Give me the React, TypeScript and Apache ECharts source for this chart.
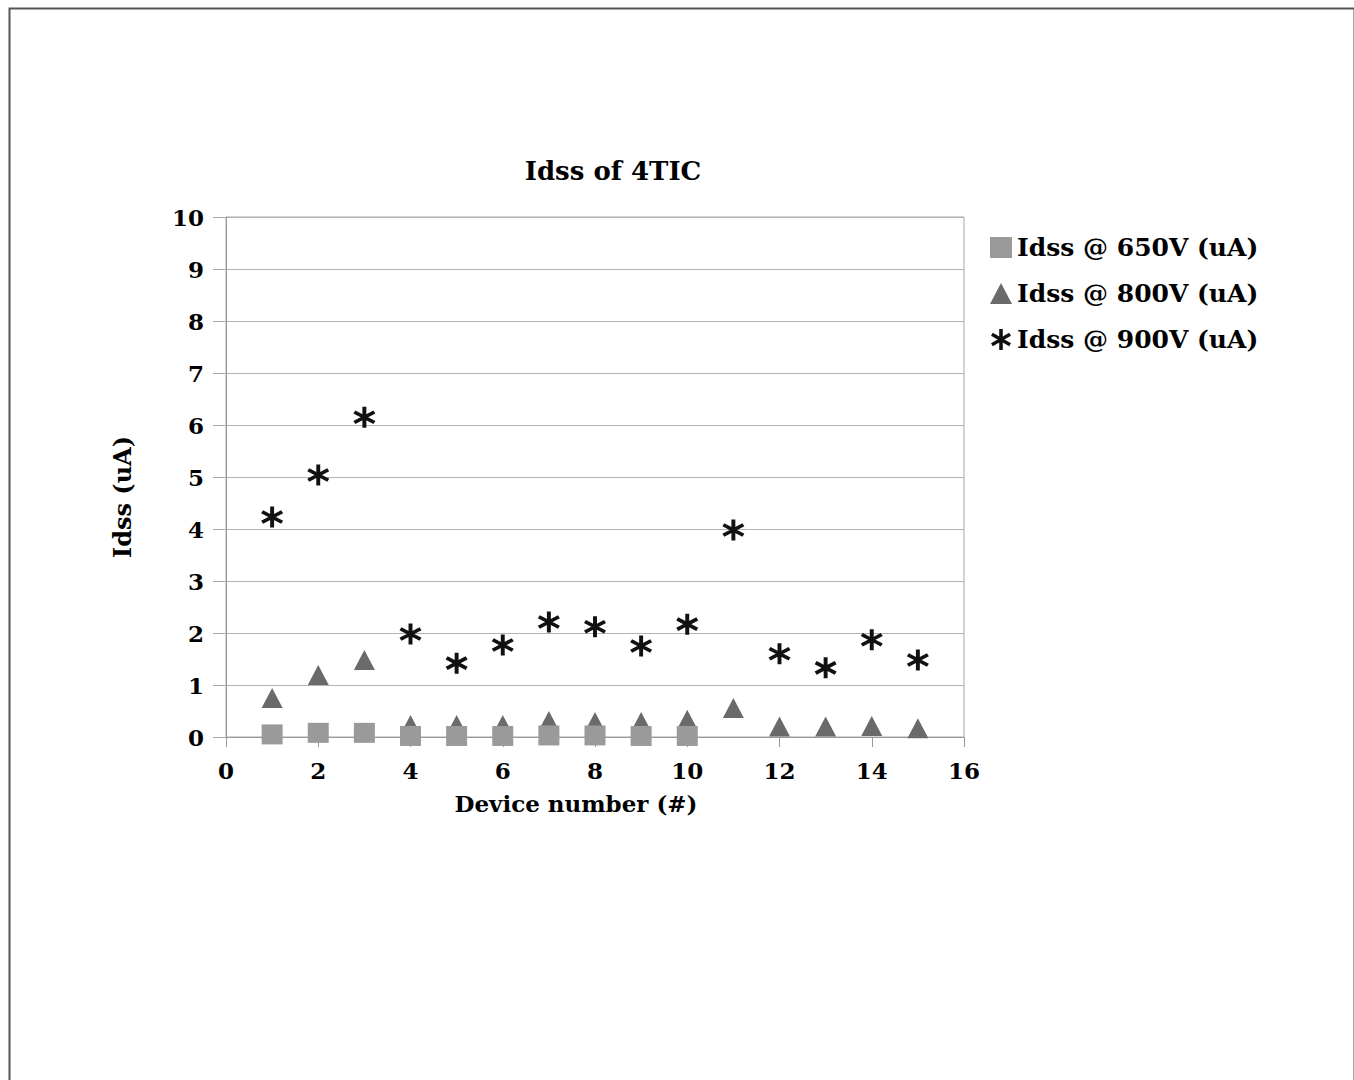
import React, { useEffect, useRef } from "react";
import * as echarts from "echarts";

const devices = [1, 2, 3, 4, 5, 6, 7, 8, 9, 10, 11, 12, 13, 14, 15];
const idss650 = [0.05, 0.08, 0.08, 0.02, 0.02, 0.02, 0.03, 0.03, 0.02, 0.02];
const idss800 = [0.75, 1.19, 1.48, 0.23, 0.23, 0.23, 0.31, 0.29, 0.29, 0.33, 0.56, 0.2, 0.2, 0.21, 0.17];
const idss900 = [4.23, 5.04, 6.15, 1.98, 1.42, 1.77, 2.21, 2.12, 1.75, 2.17, 3.98, 1.6, 1.33, 1.87, 1.48];
const seriesNames = ["Idss @ 650V (uA)", "Idss @ 800V (uA)", "Idss @ 900V (uA)"];
const xTicks = { min: 0, max: 16, interval: 2 };
const yTicks = { min: 0, max: 10, interval: 1 };

const ASTERISK =
  "path://M8.3 0 L11.7 0 L11.7 20 L8.3 20 Z M17.81 3.53 L19.51 6.47 L2.19 16.47 L0.49 13.53 Z M0.49 6.47 L2.19 3.53 L19.51 13.53 L17.81 16.47 Z";

const FONT = "DejaVu Serif";

export default function App() {
  const ref = useRef<HTMLDivElement>(null);
  useEffect(() => {
    if (!ref.current) return;
    const chart = echarts.init(ref.current, null, { renderer: "svg" });
    const pts = (vals: number[]) => vals.map((v, i) => [devices[i], v]);
    chart.setOption({
      animation: false,
      backgroundColor: "#ffffff",
      title: {
        text: "Idss of 4TIC",
        left: 613,
        top: 158,
        textAlign: "center",
        padding: 0,
        textStyle: { fontFamily: FONT, fontWeight: "bold", fontSize: 26, color: "#000" },
      },
      legend: {
        orient: "vertical",
        left: 990,
        top: 235,
        padding: 0,
        itemGap: 21,
        itemWidth: 22,
        itemHeight: 21,
        textStyle: { fontFamily: FONT, fontWeight: "bold", fontSize: 25, color: "#000" },
        data: [
          { name: seriesNames[0], icon: "rect" },
          { name: seriesNames[1], icon: "triangle" },
          { name: seriesNames[2], icon: ASTERISK },
        ],
      },
      grid: {
        left: 226,
        top: 217,
        width: 738,
        height: 520,
        show: true,
        borderColor: "#a8a8a8",
        borderWidth: 1,
        containLabel: false,
      },
      xAxis: {
        type: "value",
        min: xTicks.min,
        max: xTicks.max,
        interval: xTicks.interval,
        name: "Device number (#)",
        nameLocation: "middle",
        nameGap: 55,
        nameTextStyle: { fontFamily: FONT, fontWeight: "bold", fontSize: 23, color: "#000", padding: [0, 38, 0, 0] },
        axisLine: { show: true, lineStyle: { color: "#999", width: 1 } },
        axisTick: { show: true, inside: false, length: 10, lineStyle: { color: "#999" } },
        axisLabel: { margin: 22, fontFamily: FONT, fontWeight: "bold", fontSize: 23, color: "#000" },
        splitLine: { show: false },
      },
      yAxis: {
        type: "value",
        min: yTicks.min,
        max: yTicks.max,
        interval: yTicks.interval,
        name: "Idss (uA)",
        nameLocation: "middle",
        nameGap: 92,
        nameTextStyle: { fontFamily: FONT, fontWeight: "bold", fontSize: 24, color: "#000", padding: [0, 40, 0, 0] },
        axisLine: { show: true, lineStyle: { color: "#999", width: 1 } },
        axisTick: { show: true, inside: false, length: 13, lineStyle: { color: "#aaa" } },
        axisLabel: { margin: 22, fontFamily: FONT, fontWeight: "bold", fontSize: 23, color: "#000" },
        splitLine: { show: true, lineStyle: { color: "#b3b3b3", width: 1 } },
      },
      series: [
        {
          name: seriesNames[0],
          type: "scatter",
          symbol: "rect",
          symbolSize: [21, 20],
          z: 4,
          itemStyle: { color: "#9a9a9a", opacity: 1 },
          data: pts(idss650),
        },
        {
          name: seriesNames[1],
          type: "scatter",
          symbol: "triangle",
          symbolSize: [21, 20],
          z: 3,
          itemStyle: { color: "#6a6a6a", opacity: 1 },
          data: pts(idss800),
        },
        {
          name: seriesNames[2],
          type: "scatter",
          symbol: ASTERISK,
          symbolSize: [22, 21],
          z: 3,
          itemStyle: { color: "#111", opacity: 1 },
          data: pts(idss900),
        },
      ],
      graphic: [
        {
          type: "rect",
          left: 7,
          top: 6,
          z: 100,
          shape: { width: 1345, height: 1100 },
          style: { fill: "none", stroke: "#555", lineWidth: 2 },
          silent: true,
        },
      ],
    });
    return () => chart.dispose();
  }, []);
  return (
    <div
      ref={ref}
      style={{ position: "absolute", left: 0, top: 0, width: 1354, height: 1080 }}
    />
  );
}
